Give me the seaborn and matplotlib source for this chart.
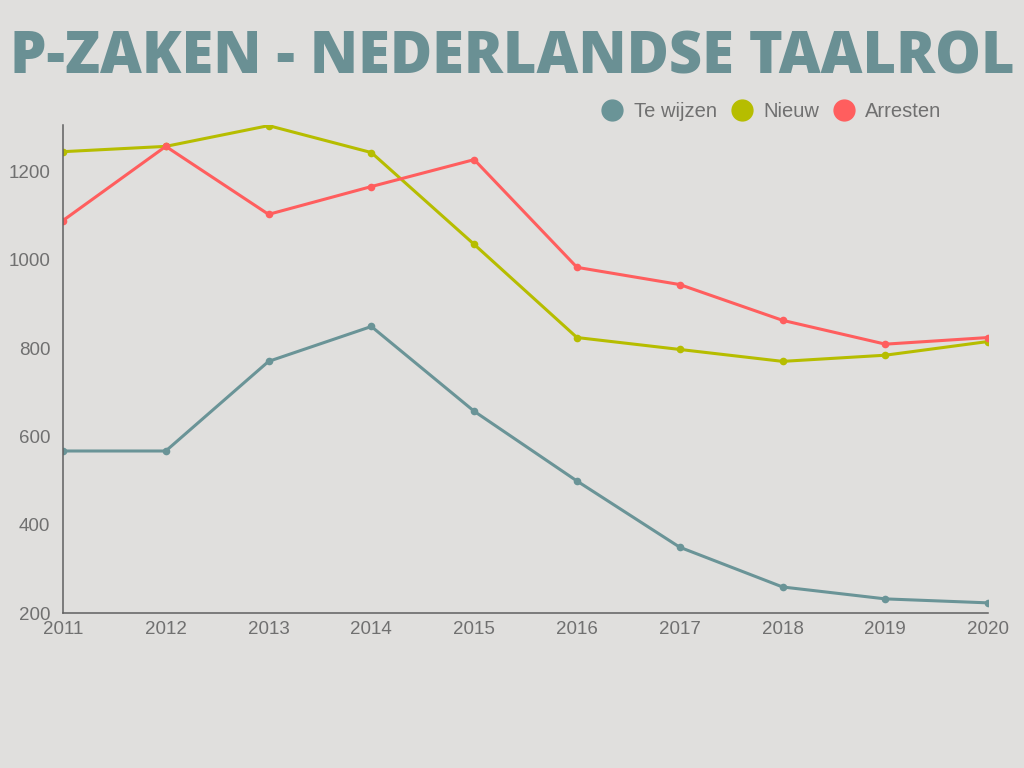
import pandas as pd
import matplotlib.pyplot as plt
import seaborn as sns
from matplotlib.lines import Line2D

years = [2011, 2012, 2013, 2014, 2015, 2016, 2017, 2018, 2019, 2020]
te_wijzen = [567, 567, 770, 849, 657, 499, 349, 259, 232, 223]
nieuw = [1245, 1257, 1304, 1243, 1035, 824, 797, 770, 784, 815]
arresten = [1089, 1257, 1103, 1166, 1227, 983, 944, 863, 809, 824]

series = ["Te wijzen", "Nieuw", "Arresten"]
colors = ["#6a9497", "#b6bd00", "#ff5e5e"]

df = pd.DataFrame({
    "jaar": years * 3,
    "waarde": te_wijzen + nieuw + arresten,
    "reeks": [s for s in series for _ in years],
})

bg = "#e0dfdd"
sns.set_style("white")
plt.rcParams["font.family"] = ["Liberation Sans", "DejaVu Sans"]

fig = plt.figure(figsize=(10.24, 7.68), dpi=100, facecolor=bg)
ax = fig.add_axes([0.0615, 0.2018, 0.9035, 0.6352])
ax.set_facecolor(bg)

sns.lineplot(
    data=df, x="jaar", y="waarde", hue="reeks", hue_order=series,
    palette=colors, marker="o", markersize=5.5, markeredgewidth=0,
    linewidth=2.2, legend=False, ax=ax,
)

ax.set_xlim(2011, 2020)
ax.set_ylim(200, 1305)
ax.set_xticks(years)
ax.set_yticks([200, 400, 600, 800, 1000, 1200])
ax.tick_params(axis="both", length=0, labelsize=13.5, colors="#707070")
ax.tick_params(axis="x", pad=6)
ax.tick_params(axis="y", pad=9)
ax.set_xlabel("")
ax.set_ylabel("")
for side in ["top", "right"]:
    ax.spines[side].set_visible(False)
for side in ["left", "bottom"]:
    ax.spines[side].set_color("#606060")
    ax.spines[side].set_linewidth(1.1)

fig.text(0.5, 0.925, "P-ZAKEN - NEDERLANDSE TAALROL", ha="center", va="center",
         fontsize=41.5, fontweight="heavy", color="#6a9094",
         family=["Open Sans", "DejaVu Sans"])

handles = [Line2D([], [], marker="o", linestyle="", markersize=15, color=c)
           for c in colors]
fig.legend(handles, series, loc="center right", bbox_to_anchor=(0.937, 0.855),
           ncol=3, frameon=False, fontsize=14.5, labelcolor="#707070",
           handletextpad=0.45, columnspacing=0.65, handlelength=1.2)

fig.savefig("out.png", dpi=100, facecolor=bg)
